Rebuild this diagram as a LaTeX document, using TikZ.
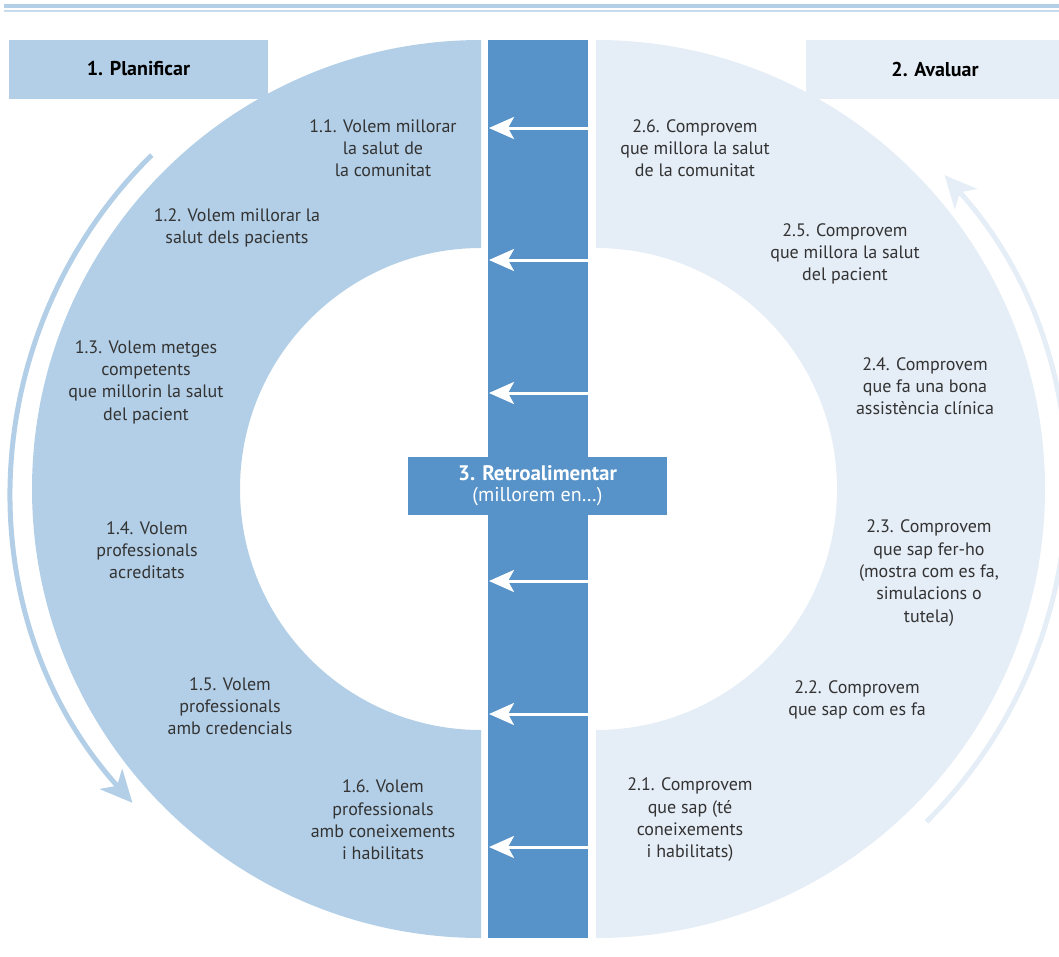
\documentclass[tikz,border=0pt]{standalone}
\usepackage{fontspec}
\setmainfont{PT Sans}
\usetikzlibrary{arrows.meta}

\definecolor{blauclar}{HTML}{B3CFE7}
\definecolor{blaupal}{HTML}{E5EDF7}
\definecolor{blaufort}{HTML}{5793C9}
\definecolor{textgris}{HTML}{333333}

\begin{document}
\begin{tikzpicture}[x=1pt,y=-1pt,line join=round,
		txt/.style={align=center,text=textgris,font=\fontsize{18}{22.3}\selectfont},
		tit/.style={font=\bfseries\fontsize{20}{22}\selectfont,text=black},
		fletxa/.style={white,line width=3pt,-{Stealth[length=25pt,width=22pt,inset=6pt]}},
		gir/.style={line width=5pt,-{Stealth[length=32pt,width=30pt,inset=9pt]}}]
		\useasboundingbox (0,0) rectangle (1059,956);
		\fill[blauclar] (4,4) rectangle (1059,8); %filet
		\fill[blauclar!60!blaupal] (4,10) rectangle (1059,12);
		\coordinate (cL) at (481,489);
		\coordinate (cR) at (596,489);
		% capcaleres
		\fill[blauclar] (9,40) rectangle (268,99);
		\fill[blaupal] (806,40) rectangle (1059,99);
		\node[tit] (plan) at (138.5,69) {1. Planificar};
		\node[tit] (aval) at (935,69) {2. Avaluar};
		% mig anell esquerre
		\begin{scope}
			\clip (0,0) rectangle (481,956);
			\fill[blauclar,even odd rule] (cL) circle[radius=449pt] (cL) circle[radius=241pt];
		\end{scope}
		% mig anell dret
		\begin{scope}
			\clip (596,0) rectangle (1059,956);
			\fill[blaupal,even odd rule] (cR) circle[radius=449pt] (cR) circle[radius=241pt];
		\end{scope}
		% fletxes corbes
		\draw[gir,blauclar] ([shift={(134.6:469pt)}]cL) arc[start angle=134.6,end angle=222,radius=469pt];
		\draw[gir,blaupal] ([shift={(-45.2:469pt)}]cR) arc[start angle=-45.2,end angle=42,radius=469pt];
		% barra central
		\fill[blaufort] (488,40) rectangle (588,938);
		\foreach \y [count=\i] in {128,260,393,581,714,847} {
			\coordinate (a\i) at (588,\y);
			\coordinate (b\i) at (489,\y);
			\draw[fletxa] (a\i) -- (b\i);
		}
		\node[fill=blaufort,minimum width=259pt,minimum height=58pt,align=center,text=white,
			font=\fontsize{20}{21}\selectfont] (retro) at (537.5,486)
			{{\bfseries\fontsize{21}{21}\selectfont 3. Retroalimentar}\\(millorem en\dots)};
		% planificar
		\node[txt] (l1) at (383,148) {1.1. Volem millorar\\la salut de\\la comunitat};
		\node[txt] (l2) at (237,228) {1.2. Volem millorar la\\salut dels pacients};
		\node[txt] (l3) at (146,382) {1.3. Volem metges\\competents\\que millorin la salut\\del pacient};
		\node[txt] (l4) at (147,550) {1.4. Volem\\professionals\\acreditats};
		\node[txt] (l5) at (230,706) {1.5. Volem\\professionals\\amb credencials};
		\node[txt] (l6) at (383,820) {1.6. Volem\\professionals\\amb coneixements\\i habilitats};
		% avaluar
		\node[txt] (r6) at (695,148) {2.6. Comprovem\\que millora la salut\\de la comunitat};
		\node[txt] (r5) at (845,254) {2.5. Comprovem\\que millora la salut\\del pacient};
		\node[txt] (r4) at (925,386) {2.4. Comprovem\\que fa una bona\\assistència clínica};
		\node[txt] (r3) at (929,573) {2.3. Comprovem\\que sap fer-ho\\(mostra com es fa,\\simulacions o\\tutela)};
		\node[txt] (r2) at (857,700) {2.2. Comprovem\\que sap com es fa};
		\node[txt] (r1) at (690,820) {2.1. Comprovem\\que sap (té\\coneixements\\i habilitats)};
\end{tikzpicture}
\end{document}
